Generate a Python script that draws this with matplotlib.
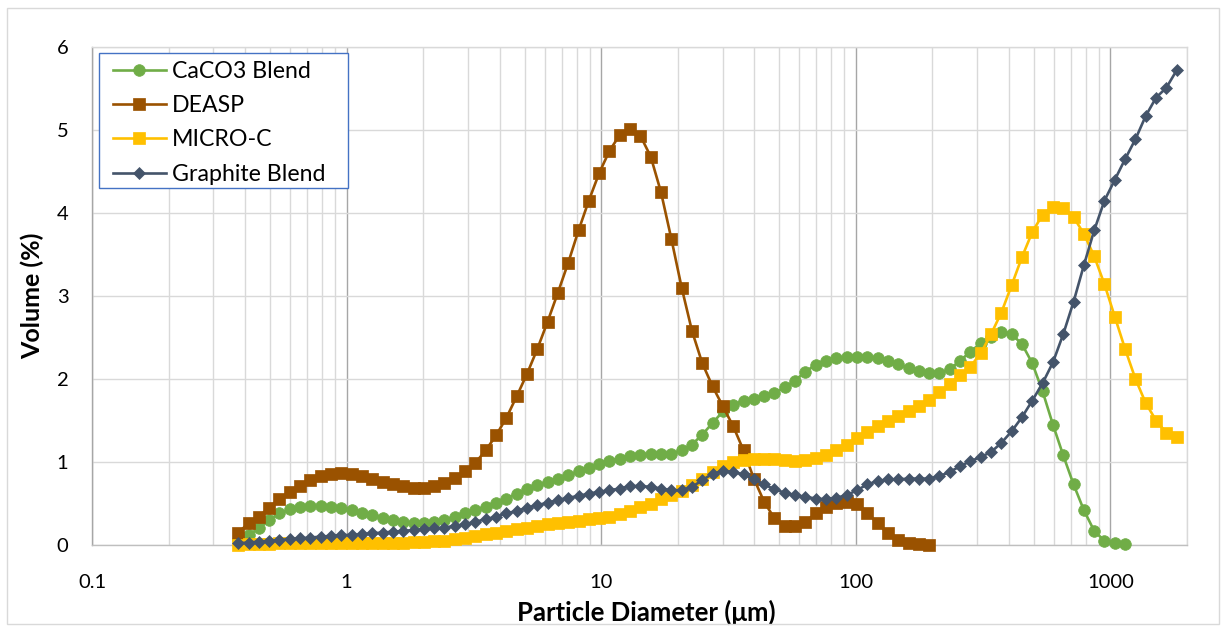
import matplotlib
matplotlib.use("Agg")
import matplotlib.pyplot as plt
from matplotlib.patches import Rectangle
from matplotlib.ticker import LogLocator, FixedLocator, FixedFormatter, NullFormatter

# Laser-diffraction size channels (µm)
diameter = [
    0.375, 0.412, 0.452, 0.496, 0.545, 0.598, 0.657, 0.721, 0.791, 0.869,
    0.953, 1.047, 1.149, 1.261, 1.385, 1.520, 1.669, 1.832, 2.010, 2.207,
    2.423, 2.660, 2.920, 3.205, 3.519, 3.863, 4.240, 4.655, 5.110, 5.610,
    6.158, 6.760, 7.421, 8.147, 8.944, 9.819, 10.78, 11.83, 12.99, 14.26,
    15.65, 17.18, 18.86, 20.71, 22.73, 24.95, 27.39, 30.07, 33.01, 36.24,
    39.78, 43.67, 47.94, 52.63, 57.77, 63.42, 69.62, 76.43, 83.90, 92.10,
    101.1, 111.0, 121.8, 133.7, 146.8, 161.2, 176.8, 194.2, 213.2, 234.1,
    256.9, 282.1, 309.6, 339.9, 373.1, 409.6, 449.7, 493.6, 541.9, 594.9,
    653.0, 716.9, 786.9, 863.9, 948.3, 1041, 1143, 1255, 1377, 1512,
    1660, 1822,
]

caco3_blend = [
    0.06, 0.12, 0.20, 0.30, 0.38, 0.43, 0.46, 0.47, 0.47, 0.46,
    0.44, 0.42, 0.39, 0.36, 0.33, 0.30, 0.28, 0.27, 0.27, 0.28,
    0.30, 0.34, 0.38, 0.42, 0.46, 0.51, 0.56, 0.62, 0.67, 0.72,
    0.76, 0.80, 0.84, 0.89, 0.93, 0.97, 1.01, 1.04, 1.07, 1.09,
    1.10, 1.10, 1.10, 1.14, 1.21, 1.33, 1.47, 1.61, 1.69, 1.74,
    1.76, 1.79, 1.83, 1.90, 1.98, 2.09, 2.17, 2.22, 2.25, 2.27,
    2.27, 2.26, 2.25, 2.22, 2.18, 2.13, 2.10, 2.07, 2.07, 2.12,
    2.22, 2.33, 2.43, 2.51, 2.57, 2.54, 2.42, 2.19, 1.85, 1.45,
    1.08, 0.73, 0.42, 0.17, 0.05, 0.02, 0.01,
]

deasp = [
    0.15, 0.26, 0.34, 0.45, 0.56, 0.64, 0.71, 0.78, 0.83, 0.86,
    0.87, 0.86, 0.83, 0.80, 0.76, 0.73, 0.71, 0.69, 0.69, 0.71,
    0.75, 0.81, 0.89, 0.99, 1.14, 1.32, 1.53, 1.79, 2.06, 2.36,
    2.69, 3.04, 3.40, 3.79, 4.15, 4.48, 4.75, 4.94, 5.01, 4.93,
    4.68, 4.25, 3.69, 3.10, 2.58, 2.19, 1.91, 1.67, 1.43, 1.14,
    0.80, 0.52, 0.32, 0.23, 0.23, 0.28, 0.38, 0.46, 0.51, 0.52,
    0.50, 0.39, 0.26, 0.14, 0.06, 0.02, 0.01, 0.00,
]

micro_c = [
    0.00, 0.01, 0.01, 0.01, 0.02, 0.02, 0.02, 0.02, 0.02, 0.02,
    0.02, 0.02, 0.02, 0.02, 0.03, 0.03, 0.03, 0.04, 0.04, 0.05,
    0.05, 0.07, 0.09, 0.11, 0.13, 0.15, 0.17, 0.19, 0.21, 0.23,
    0.25, 0.27, 0.28, 0.29, 0.31, 0.32, 0.34, 0.37, 0.41, 0.46,
    0.50, 0.55, 0.60, 0.65, 0.72, 0.80, 0.88, 0.95, 1.00, 1.03,
    1.04, 1.04, 1.04, 1.02, 1.01, 1.02, 1.05, 1.09, 1.15, 1.21,
    1.29, 1.36, 1.43, 1.49, 1.55, 1.61, 1.67, 1.75, 1.84, 1.94,
    2.05, 2.15, 2.31, 2.54, 2.80, 3.13, 3.47, 3.77, 3.98, 4.07,
    4.06, 3.95, 3.75, 3.48, 3.14, 2.75, 2.36, 2.00, 1.71, 1.50,
    1.35, 1.30,
]

graphite_blend = [
    0.02, 0.03, 0.04, 0.05, 0.06, 0.07, 0.08, 0.09, 0.10, 0.11,
    0.12, 0.12, 0.13, 0.14, 0.15, 0.16, 0.17, 0.18, 0.19, 0.20,
    0.21, 0.23, 0.25, 0.28, 0.31, 0.34, 0.38, 0.41, 0.45, 0.48,
    0.51, 0.54, 0.57, 0.59, 0.62, 0.64, 0.66, 0.68, 0.71, 0.71,
    0.70, 0.68, 0.66, 0.66, 0.70, 0.78, 0.86, 0.89, 0.88, 0.85,
    0.79, 0.73, 0.67, 0.63, 0.60, 0.58, 0.56, 0.55, 0.57, 0.60,
    0.66, 0.73, 0.77, 0.79, 0.79, 0.80, 0.80, 0.80, 0.83, 0.88,
    0.95, 1.01, 1.06, 1.12, 1.23, 1.37, 1.54, 1.74, 1.95, 2.20,
    2.54, 2.93, 3.37, 3.79, 4.15, 4.40, 4.65, 4.89, 5.17, 5.39,
    5.51, 5.72,
]

x_ticks = [0.1, 1, 10, 100, 1000]
x_tick_labels = ["0.1", "1", "10", "100", "1000"]
y_ticks = [0, 1, 2, 3, 4, 5, 6]

FONT = ["Lato", "DejaVu Sans"]
plt.rcParams["font.family"] = FONT

W, H = 1226, 631
fig = plt.figure(figsize=(W / 100, H / 100), dpi=100)
fig.patch.set_facecolor("white")

# plot area in pixel coordinates
L, R, T, B = 92, 1187, 47, 545
ax = fig.add_axes([L / W, 1 - B / H, (R - L) / W, (B - T) / H])

# outer chart border
fig.patches.append(Rectangle((7 / W, 1 - 624 / H), (1219 - 7) / W, (624 - 8) / H,
                             transform=fig.transFigure, fill=False,
                             edgecolor="#d9d9d9", linewidth=1.0))

series = [
    ("CaCO3 Blend", caco3_blend, "#70AD47", "o", 8.4),
    ("DEASP", deasp, "#9A5200", "s", 9.2),
    ("MICRO-C", micro_c, "#FFC000", "s", 9.2),
    ("Graphite Blend", graphite_blend, "#44546A", "D", 6.6),
]

handles = []
for name, vals, color, marker, ms in series:
    h, = ax.plot(diameter[:len(vals)], vals, color=color, linewidth=1.9,
                 marker=marker, markersize=ms, markerfacecolor=color,
                 markeredgecolor=color, markeredgewidth=0.5, label=name,
                 clip_on=False, zorder=3)
    handles.append(h)

ax.set_xscale("log")
ax.set_xlim(0.1, 2000)
ax.set_ylim(0, 6)

ax.xaxis.set_major_locator(FixedLocator(x_ticks))
ax.xaxis.set_major_formatter(FixedFormatter(x_tick_labels))
ax.xaxis.set_minor_locator(LogLocator(base=10, subs=range(2, 10), numticks=20))
ax.xaxis.set_minor_formatter(NullFormatter())
ax.set_yticks(y_ticks)
ax.set_yticklabels([str(v) for v in y_ticks])

ax.grid(which="major", axis="x", color="#a6a6a6", linewidth=1.0, zorder=0)
ax.grid(which="minor", axis="x", color="#d9d9d9", linewidth=1.0, zorder=0)
ax.grid(which="major", axis="y", color="#d9d9d9", linewidth=1.0, zorder=0)
ax.set_axisbelow(True)

for side, col in [("left", "#a6a6a6"), ("right", "#d9d9d9"),
                  ("top", "#d9d9d9"), ("bottom", "#bfbfbf")]:
    ax.spines[side].set_color(col)
    ax.spines[side].set_linewidth(1.0)

ax.tick_params(axis="both", which="both", length=0, labelsize=14.5,
               labelcolor="#000000")
ax.tick_params(axis="x", pad=21)
ax.tick_params(axis="y", pad=17)

ax.set_xlabel("Particle Diameter (\u03bcm)", fontsize=18.5, fontweight="bold",
              family=FONT)
ax.set_ylabel("Volume (%)", fontsize=18, fontweight="bold", family=FONT)
ax.xaxis.set_label_coords((646 - L) / (R - L), (B - 612) / (B - T))
ax.yaxis.set_label_coords((32 - L) / (R - L), 0.5)
ax.xaxis.label.set_va("center")
ax.yaxis.label.set_va("center")

# legend box
ax.add_patch(Rectangle((99 / W, 1 - 188 / H), (348 - 99) / W, (188 - 53) / H,
                       transform=fig.transFigure, facecolor="white",
                       edgecolor="#4472C4", linewidth=1.0, zorder=6,
                       clip_on=False))
leg = ax.legend(handles=handles, loc="upper left",
                bbox_to_anchor=(113 / W, 1 - 61 / H),
                bbox_transform=fig.transFigure, frameon=False,
                fontsize=16.7, borderpad=0, borderaxespad=0,
                handlelength=2.28, handletextpad=0.26, labelspacing=0.57)
leg.set_zorder(7)

fig.savefig("out.png", dpi=100, facecolor="white")
